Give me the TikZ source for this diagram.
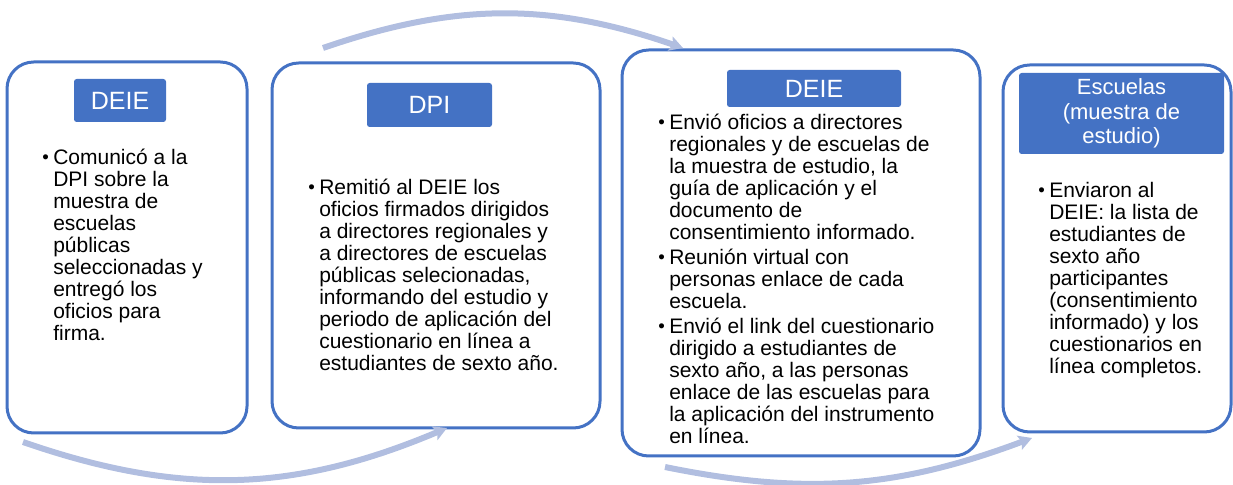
\documentclass[tikz,border=0pt]{standalone}
\usepackage{fontspec}
\setmainfont{Liberation Sans}
\usetikzlibrary{arrows.meta}

\definecolor{deieblue}{RGB}{68,114,196}
\definecolor{flowblue}{RGB}{177,190,224}

\newcommand{\bul}{\makebox[8.25pt][l]{\raisebox{0.5pt}{\fontsize{14}{14}\selectfont\textbullet}}}

\begin{document}
\begin{tikzpicture}
  [x=0.75pt,y=0.75pt,
   box/.style={draw=deieblue,line width=2.25pt,rounded corners=20pt,inner sep=0pt},
   hdr/.style={fill=deieblue,text=white,rounded corners=2pt,inner sep=0pt,
     font=\fontsize{18.75}{20}\selectfont},
   txt/.style={anchor=north west,inner sep=0pt,font=\fontsize{15.75}{16.5}\selectfont},
   flow/.style={draw=flowblue,line width=4.5pt,-{Stealth[length=10pt,width=11pt,inset=2pt]}}]
  \useasboundingbox (0,0) rectangle (1233,485);

  % the four steps
  \node[box,minimum width=180pt,minimum height=278.25pt] (b1) at (127,237.5) {};
  \node[box,minimum width=246pt,minimum height=273.75pt] (b2) at (436,239.5) {};
  \node[box,minimum width=268.5pt,minimum height=304.5pt] (b3) at (801,232) {};
  \node[box,minimum width=171pt,minimum height=275.25pt] (b4) at (1117,236.5) {};

  % who does it
  \node[hdr,minimum width=69pt,minimum height=32.25pt] (h1) at (120,384.5) {DEIE};
  \node[hdr,minimum width=93.75pt,minimum height=33pt] (h2) at (429.5,380) {DPI};
  \node[hdr,minimum width=130.5pt,minimum height=27.75pt] (h3) at (814,396.5) {DEIE};
  \node[hdr,minimum width=153.75pt,minimum height=60.75pt,align=center,
    font=\fontsize{16.5}{18.4}\selectfont] (h4) at (1121.5,371.5)
    {Escuelas\\(muestra de\\estudio)};

  % what is done
  \node[txt] (t1) at (42,336.4) {\begin{tabular}{@{}l@{}l@{}}
    \bul & Comunicó a la\\
    & DPI sobre la\\
    & muestra de\\
    & escuelas\\
    & públicas\\
    & seleccionadas y\\
    & entregó los\\
    & oficios para\\
    & firma.
  \end{tabular}};
  \node[txt] (t2) at (308,306.4) {\begin{tabular}{@{}l@{}l@{}}
    \bul & Remitió al DEIE los\\
    & oficios firmados dirigidos\\
    & a directores regionales y\\
    & a directores de escuelas\\
    & públicas selecionadas,\\
    & informando del estudio y\\
    & periodo de aplicación del\\
    & cuestionario en línea a\\
    & estudiantes de sexto año.
  \end{tabular}};
  \node[txt] (t3) at (658,371.4) {\begin{tabular}{@{}l@{}l@{}}
    \bul & Envió oficios a directores\\
    & regionales y de escuelas de\\
    & la muestra de estudio, la\\
    & guía de aplicación y el\\
    & documento de\\
    & consentimiento informado.\\[2.25pt]
    \bul & Reunión virtual con\\
    & personas enlace de cada\\
    & escuela.\\[2.25pt]
    \bul & Envió el link del cuestionario\\
    & dirigido a estudiantes de\\
    & sexto año, a las personas\\
    & enlace de las escuelas para\\
    & la aplicación del instrumento\\
    & en línea.
  \end{tabular}};
  \node[txt] (t4) at (1038,303.4) {\begin{tabular}{@{}l@{}l@{}}
    \bul & Enviaron al\\
    & DEIE: la lista de\\
    & estudiantes de\\
    & sexto año\\
    & participantes\\
    & (consentimiento\\
    & informado) y los\\
    & cuestionarios en\\
    & línea completos.
  \end{tabular}};

  % flow between steps
  \coordinate (a1s) at (23,43);
  \coordinate (a1e) at (447,57);
  \coordinate (a2s) at (323,437);
  \coordinate (a2e) at (683,437);
  \coordinate (a3s) at (665,18);
  \coordinate (a3e) at (1032,47);
  \foreach \from/\to/\ang in {a1s/a1e/-21,a2s/a2e/19,a3s/a3e/-16}
    \draw[flow] (\from) to[bend left=\ang] (\to);
\end{tikzpicture}
\end{document}
